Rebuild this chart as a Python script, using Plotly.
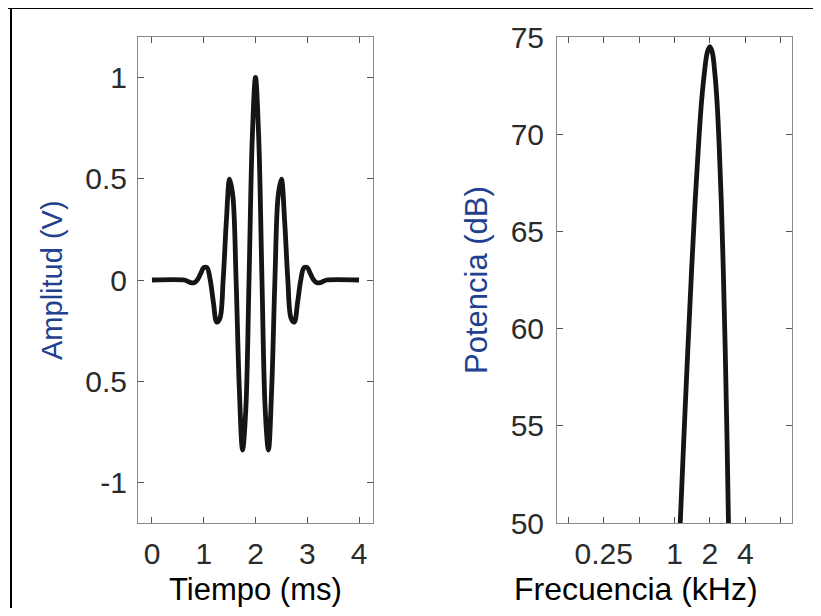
import plotly.graph_objects as go

# ---- data ----
time_ms = [0.0, 0.625, 0.6875, 0.75, 0.8125, 0.875, 0.9375, 1.0, 1.0625, 1.125, 1.1875,
           1.25, 1.3125, 1.375, 1.4375, 1.5, 1.5625, 1.625, 1.6875, 1.75, 1.8125, 1.875,
           1.9375, 2.0, 2.0625, 2.125, 2.1875, 2.25, 2.3125, 2.375, 2.4375, 2.5, 2.5625,
           2.625, 2.6875, 2.75, 2.8125, 2.875, 2.9375, 3.0, 3.0625, 3.125, 3.1875, 3.25,
           3.3125, 3.375, 4.0]
amplitude_v = [0.0, 0.0, -0.006, -0.013, -0.014, 0.0, 0.030, 0.061, 0.061, 0.0, -0.112,
               -0.208, -0.189, 0.0, 0.293, 0.498, 0.415, 0.0, -0.538, -0.840, -0.641, 0.0,
               0.699, 1.0, 0.699, 0.0, -0.641, -0.840, -0.538, 0.0, 0.415, 0.498, 0.293,
               0.0, -0.189, -0.208, -0.112, 0.0, 0.061, 0.061, 0.030, 0.0, -0.014, -0.013,
               -0.006, 0.0, 0.0]

freq_khz = [1.11, 1.2, 1.3, 1.4, 1.5, 1.6, 1.7, 1.8, 1.9, 2.0, 2.1, 2.2, 2.3, 2.4, 2.5,
            2.6, 2.7, 2.8, 2.9]
power_db = [49.5, 54.3, 59.0, 63.1, 66.6, 69.4, 71.7, 73.2, 74.2, 74.5, 74.2, 73.2, 71.7,
            69.4, 66.6, 63.1, 59.0, 54.3, 48.9]

left_yticks = [-1, -0.5, 0, 0.5, 1]
left_yticklabels = ["-1", "0.5", "0", "0.5", "1"]
left_xticks = [0, 1, 2, 3, 4]
right_yticks = [50, 55, 60, 65, 70, 75]
right_xticks = [0.125, 0.25, 0.5, 1, 2, 4, 8]
right_xticklabels = ["", "0.25", "", "1", "2", "4", ""]

OFF = 8  # page body margin offset
W, H = 821 - 2 * OFF, 616 - 2 * OFF
FONT = "Liberation Sans, Arial, sans-serif"
TICKFONT = dict(family=FONT, size=30, color="#2b2b2b")
AXLINE = "#8a8a8a"

fig = go.Figure()
fig.add_trace(go.Scatter(x=time_ms, y=amplitude_v, mode="lines",
                         line=dict(color="#151515", width=4.8, shape="spline", smoothing=1),
                         xaxis="x", yaxis="y", showlegend=False))
fig.add_trace(go.Scatter(x=freq_khz, y=power_db, mode="lines",
                         line=dict(color="#151515", width=4.8, shape="spline", smoothing=1),
                         xaxis="x2", yaxis="y2", showlegend=False))

def px(x):
    return (x - OFF) / W

def py(y):
    return 1 - (y - OFF) / H

common = dict(showline=True, linecolor=AXLINE, linewidth=1, mirror="ticks",
              ticks="inside", ticklen=6, tickcolor="#555555", tickwidth=1,
              showgrid=False, zeroline=False, tickfont=TICKFONT, automargin=False)

fig.update_layout(
    template="none",
    width=W, height=H,
    margin=dict(l=0, r=0, t=0, b=0, pad=0),
    paper_bgcolor="white", plot_bgcolor="white",
    xaxis=dict(domain=[px(138), px(373)], range=[-0.27, 4.27], tickmode="array",
               tickvals=left_xticks, anchor="y", ticklabelstandoff=4, **common),
    yaxis=dict(domain=[py(523), py(37)], range=[-1.2, 1.2], tickmode="array",
               tickvals=left_yticks, ticktext=left_yticklabels, anchor="x",
               ticklabelstandoff=4, **common),
    xaxis2=dict(domain=[px(557), px(792)], type="log", range=[-1, 1], tickmode="array",
                tickvals=right_xticks, ticktext=right_xticklabels, anchor="y2",
                ticklabelstandoff=4, **common),
    yaxis2=dict(domain=[py(523), py(37)], range=[50, 75], tickmode="array",
                tickvals=right_yticks, anchor="x2", ticklabelstandoff=6, **common),
    shapes=[
        dict(type="line", xref="paper", yref="paper", x0=0, x1=1.05, y0=py(8), y1=py(8),
             line=dict(color="black", width=2)),
        dict(type="line", xref="paper", yref="paper", x0=px(11), x1=px(11), y0=py(8), y1=-0.05,
             line=dict(color="black", width=2)),
    ],
    annotations=[
        dict(text="Tiempo (ms)", xref="paper", yref="paper", x=px(255), y=py(589),
             xanchor="center", yanchor="middle", showarrow=False,
             font=dict(family=FONT, size=31, color="black")),
        dict(text="Frecuencia (kHz)", xref="paper", yref="paper", x=px(636), y=py(589),
             xanchor="center", yanchor="middle", showarrow=False,
             font=dict(family=FONT, size=32, color="black")),
        dict(text="Amplitud (V)", xref="paper", yref="paper", x=px(52), y=py(280),
             xanchor="center", yanchor="middle", showarrow=False, textangle=-90,
             font=dict(family=FONT, size=29, color="#233f8f")),
        dict(text="Potencia (dB)", xref="paper", yref="paper", x=px(476), y=py(280),
             xanchor="center", yanchor="middle", showarrow=False, textangle=-90,
             font=dict(family=FONT, size=31, color="#233f8f")),
    ],
)

fig.write_html("out.html", config={"displayModeBar": False})
